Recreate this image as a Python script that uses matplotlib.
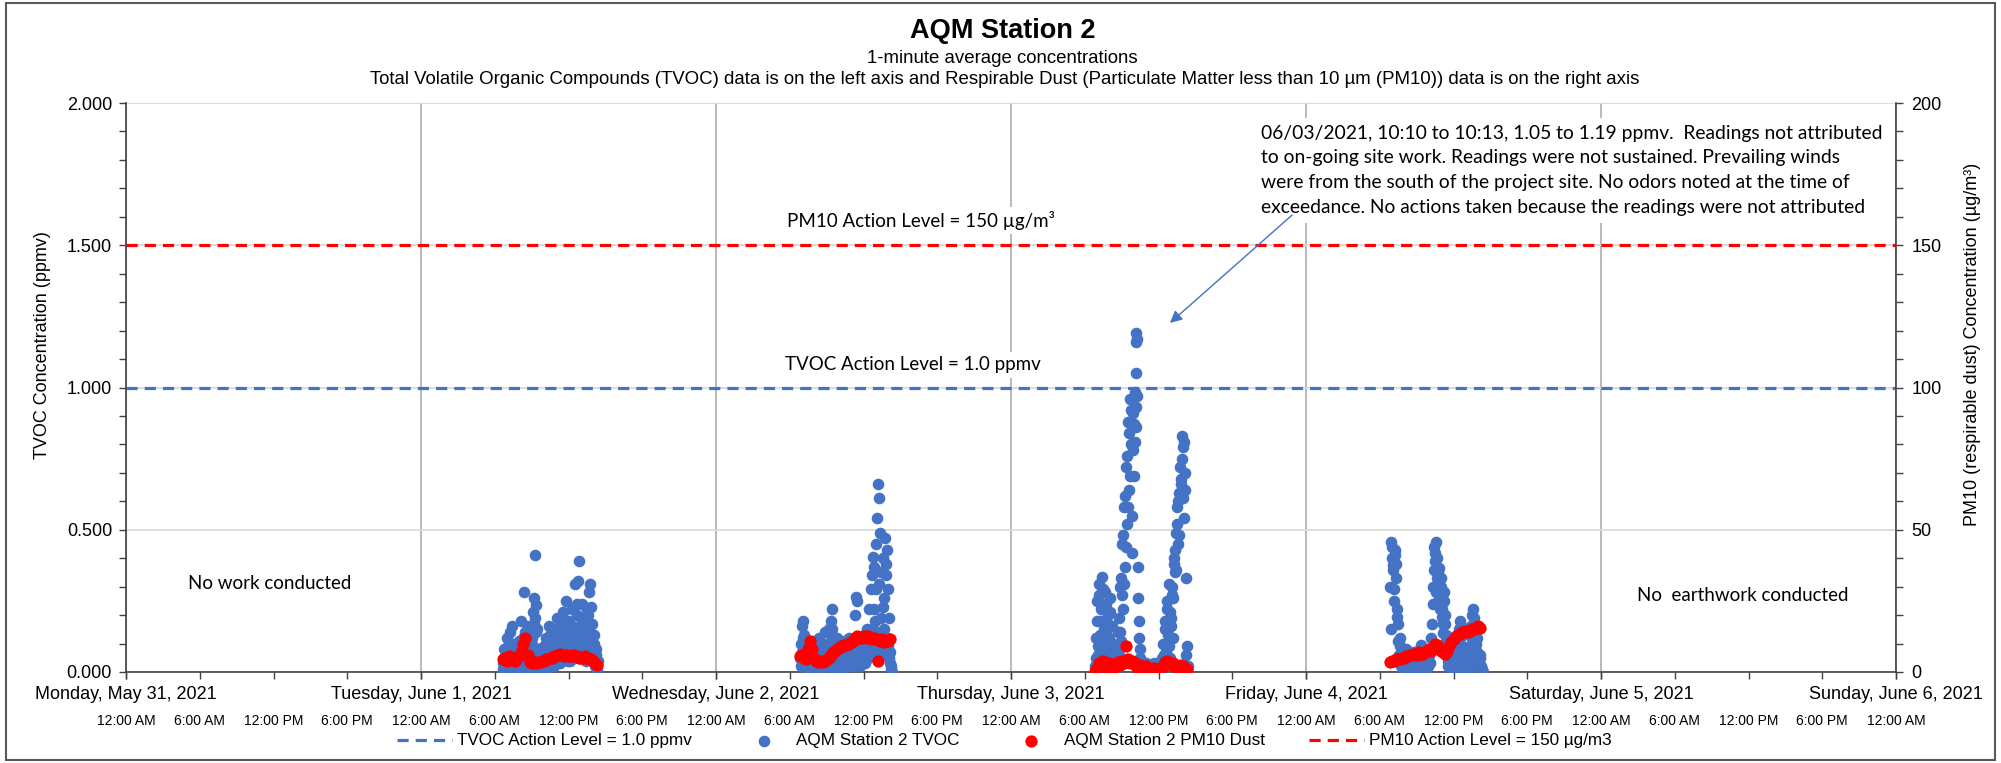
import matplotlib
matplotlib.use("Agg")
import matplotlib.pyplot as plt
import matplotlib.dates as mdates
from matplotlib.ticker import MultipleLocator, FuncFormatter
from matplotlib.lines import Line2D
from matplotlib.patches import Rectangle
import numpy as np
import pandas as pd

# ---------------- data ----------------
x_start = "2021-05-31 00:00"
x_end = "2021-06-06 00:00"

tvoc_step = "5min"
tvoc_day_starts = ["2021-06-01 06:40", "2021-06-02 06:50", "2021-06-03 06:50", "2021-06-04 06:50"]
tvoc_jun1 = [0.03, 0.08, 0.01, 0.05, 0.12, 0.02, 0.06, 0.14, 0.03, 0.16, 0.07, 0.02, 0.10, 0.04, 0.08,
             0.01, 0.11, 0.05, 0.18, 0.03, 0.09, 0.28, 0.14, 0.06, 0.16, 0.02, 0.07, 0.04, 0.12, 0.21,
             0.26, 0.41, 0.235, 0.15, 0.05, 0.02, 0.08, 0.03, 0.06, 0.01, 0.09, 0.04, 0.12, 0.02, 0.07,
             0.16, 0.13, 0.09, 0.04, 0.11, 0.06, 0.15, 0.03, 0.19, 0.08, 0.12, 0.05, 0.17, 0.10, 0.21,
             0.07, 0.14, 0.25, 0.09, 0.18, 0.04, 0.13, 0.22, 0.06, 0.15, 0.31, 0.11, 0.20, 0.32, 0.39,
             0.16, 0.08, 0.24, 0.12, 0.19, 0.05, 0.14, 0.22, 0.10, 0.28, 0.31, 0.23, 0.17, 0.06, 0.13,
             0.02, 0.08, 0.01]
tvoc_jun2 = [0.05, 0.10, 0.16, 0.18, 0.13, 0.08, 0.03, 0.06, 0.01, 0.09, 0.04, 0.07, 0.02, 0.11, 0.05,
             0.03, 0.08, 0.01, 0.06, 0.12, 0.04, 0.09, 0.02, 0.07, 0.14, 0.05, 0.10, 0.03, 0.15, 0.08,
             0.18, 0.22, 0.06, 0.02, 0.09, 0.04, 0.12, 0.07, 0.03, 0.10, 0.05, 0.08, 0.02, 0.11, 0.06,
             0.09, 0.03, 0.07, 0.12, 0.04, 0.09, 0.06, 0.02, 0.10, 0.20, 0.265, 0.25, 0.08, 0.05, 0.11,
             0.03, 0.07, 0.13, 0.04, 0.09, 0.15, 0.06, 0.22, 0.10, 0.29, 0.34, 0.405, 0.37, 0.18, 0.45,
             0.54, 0.66, 0.61, 0.49, 0.35, 0.12, 0.40, 0.26, 0.47, 0.38, 0.43, 0.29, 0.19, 0.07, 0.02]
tvoc_jun3 = [0.02, 0.12, 0.25, 0.06, 0.31, 0.18, 0.09, 0.335, 0.22, 0.04, 0.28, 0.14, 0.07, 0.20, 0.11,
             0.26, 0.03, 0.16, 0.05, 0.01, 0.08, 0.03, 0.14, 0.06, 0.30, 0.11, 0.45, 0.22, 0.58, 0.37,
             0.72, 0.52, 0.88, 0.64, 0.96, 0.80, 0.42, 0.91, 0.69, 0.985, 0.86, 0.97, 0.37, 0.18, 0.08,
             0.03, 0.01, 0.02, 0.00, 0.01, 0.03, 0.01, 0.02, 0.00, 0.01, 0.02, 0.00, 0.01, 0.03, 0.01,
             0.02, 0.00, 0.01, 0.02, 0.01, 0.04, 0.02, 0.06, 0.15, 0.03, 0.22, 0.09, 0.31, 0.05, 0.19,
             0.27, 0.12, 0.40, 0.35, 0.49, 0.58, 0.45, 0.63, 0.72, 0.66, 0.83, 0.79, 0.54, 0.70, 0.06,
             0.01]
tvoc_jun4 = [0.30, 0.458, 0.44, 0.375, 0.25, 0.43, 0.33, 0.195, 0.11, 0.04, 0.12, 0.02, 0.07, 0.01, 0.05,
             0.03, 0.08, 0.01, 0.04, 0.06, 0.02, 0.05, 0.01, 0.07, 0.03, 0.02, 0.06, 0.01, 0.04, 0.08,
             0.095, 0.03, 0.07, 0.02, 0.05, 0.01, 0.04, 0.02, 0.06, 0.03, 0.08, 0.17, 0.30, 0.44, 0.39,
             0.458, 0.33, 0.25, 0.365, 0.22, 0.30, 0.195, 0.136, 0.25, 0.17, 0.13, 0.06, 0.02, 0.09, 0.04,
             0.01, 0.06, 0.03, 0.10, 0.02, 0.05, 0.01, 0.08, 0.18, 0.16, 0.08, 0.13, 0.04, 0.02, 0.07,
             0.01, 0.05, 0.03, 0.09, 0.02, 0.12, 0.22, 0.19, 0.09, 0.055, 0.12, 0.03, 0.02, 0.05, 0.01,
             0.00]
tvoc_days = [tvoc_jun1, tvoc_jun2, tvoc_jun3, tvoc_jun4]

# interleaved readings (offset 2.5 min) filling the dense low band of each day
tvoc_b_day_starts = ["2021-06-01 06:42:30", "2021-06-02 06:52:30", "2021-06-03 06:52:30", "2021-06-04 06:52:30"]
tvoc_b_jun1 = [0.01, 0.04, 0.06, 0.02, 0.09, 0.03, 0.05, 0.01, 0.10, 0.04, 0.02, 0.07, 0.03, 0.06, 0.01,
               0.09, 0.04, 0.02, 0.06, 0.12, 0.03, 0.08, 0.05, 0.02, 0.10, 0.04, 0.01, 0.06, 0.03, 0.09,
               0.17, 0.19, 0.14, 0.04, 0.02, 0.06, 0.01, 0.04, 0.03, 0.07, 0.02, 0.05, 0.01, 0.08, 0.04,
               0.03, 0.09, 0.05, 0.07, 0.02, 0.10, 0.04, 0.13, 0.06, 0.09, 0.03, 0.11, 0.07, 0.15, 0.05,
               0.12, 0.08, 0.18, 0.04, 0.10, 0.14, 0.07, 0.16, 0.11, 0.05, 0.13, 0.09, 0.24, 0.07, 0.15,
               0.10, 0.19, 0.06, 0.12, 0.08, 0.17, 0.04, 0.11, 0.20, 0.07, 0.13, 0.09, 0.05, 0.10, 0.03,
               0.06, 0.02, 0.04]
tvoc_b_jun2 = [0.02, 0.07, 0.12, 0.09, 0.04, 0.02, 0.05, 0.01, 0.04, 0.02, 0.06, 0.03, 0.05, 0.01, 0.08,
               0.02, 0.04, 0.06, 0.03, 0.01, 0.05, 0.07, 0.02, 0.04, 0.09, 0.03, 0.06, 0.02, 0.10, 0.05,
               0.13, 0.15, 0.04, 0.01, 0.05, 0.02, 0.07, 0.03, 0.05, 0.02, 0.06, 0.04, 0.01, 0.05, 0.03,
               0.06, 0.02, 0.04, 0.08, 0.03, 0.05, 0.02, 0.06, 0.04, 0.08, 0.05, 0.03, 0.07, 0.02, 0.05,
               0.09, 0.04, 0.06, 0.03, 0.07, 0.10, 0.05, 0.08, 0.12, 0.06, 0.15, 0.09, 0.22, 0.11, 0.29,
               0.14, 0.08, 0.31, 0.10, 0.19, 0.07, 0.23, 0.15, 0.34, 0.12, 0.09, 0.05, 0.03, 0.01, 0.00]
tvoc_b_jun3 = [0.05, 0.18, 0.09, 0.27, 0.13, 0.22, 0.07, 0.29, 0.15, 0.10, 0.24, 0.06, 0.17, 0.12, 0.21,
               0.08, 0.04, 0.10, 0.02, 0.05, 0.01, 0.06, 0.09, 0.19, 0.14, 0.33, 0.27, 0.48, 0.31, 0.62,
               0.44, 0.76, 0.58, 0.84, 0.69, 0.92, 0.55, 0.78, 0.87, 0.81, 0.93, 0.26, 0.12, 0.05, 0.02,
               0.01, 0.00, 0.02, 0.01, 0.00, 0.01, 0.02, 0.00, 0.01, 0.02, 0.01, 0.00, 0.02, 0.01, 0.00,
               0.01, 0.02, 0.00, 0.03, 0.01, 0.05, 0.10, 0.04, 0.18, 0.07, 0.25, 0.13, 0.09, 0.21, 0.16,
               0.30, 0.26, 0.38, 0.43, 0.36, 0.52, 0.60, 0.48, 0.68, 0.75, 0.61, 0.81, 0.64, 0.33, 0.09,
               0.02]
tvoc_b_jun4 = [0.15, 0.40, 0.36, 0.29, 0.41, 0.38, 0.22, 0.17, 0.06, 0.09, 0.03, 0.05, 0.02, 0.04, 0.01,
               0.06, 0.03, 0.02, 0.05, 0.01, 0.03, 0.04, 0.02, 0.06, 0.01, 0.03, 0.05, 0.02, 0.07, 0.04,
               0.08, 0.05, 0.02, 0.04, 0.01, 0.03, 0.05, 0.02, 0.04, 0.07, 0.12, 0.24, 0.36, 0.42, 0.28,
               0.40, 0.35, 0.30, 0.27, 0.33, 0.22, 0.17, 0.28, 0.20, 0.11, 0.08, 0.04, 0.06, 0.02, 0.05,
               0.03, 0.07, 0.01, 0.04, 0.02, 0.06, 0.12, 0.15, 0.10, 0.06, 0.09, 0.03, 0.05, 0.02, 0.04,
               0.06, 0.01, 0.05, 0.07, 0.16, 0.20, 0.14, 0.08, 0.10, 0.07, 0.04, 0.03, 0.06, 0.02, 0.01,
               0.00]
tvoc_b_days = [tvoc_b_jun1, tvoc_b_jun2, tvoc_b_jun3, tvoc_b_jun4]

# exceedance readings (1-minute)
exceed_times = ["2021-06-03 10:10", "2021-06-03 10:11", "2021-06-03 10:12", "2021-06-03 10:13"]
exceed_tvoc = [1.05, 1.16, 1.19, 1.17]

pm10_step = "10min"
pm10_day_starts = ["2021-06-01 06:40", "2021-06-02 06:50", "2021-06-03 06:50", "2021-06-04 06:50"]
pm10_jun1 = [4.5, 5, 4, 5.5, 4.5, 5, 4, 5, 5.5, 7, 10, 12, 6, 3.5, 3, 3.5, 3, 3.5, 3.5, 4, 4, 4.5, 4.5,
             5, 5, 5.5, 5.5, 6, 6.5, 6, 5.5, 6, 5.5, 5.5, 6, 5.5, 5.5, 5, 5, 5, 5.5, 5, 4.5, 4.5, 4, 3, 2.5]
pm10_jun2 = [5.5, 6, 5, 4.5, 8, 11, 8, 5, 4, 3.5, 4, 3.5, 4, 4.5, 5, 6, 7, 7.5, 8, 8.5, 9, 9, 9.5, 10,
             10, 10.5, 11, 12, 12.5, 12, 12, 12.5, 12, 12.5, 12, 11.5, 12, 11.5, 4, 11, 11.5, 10.5, 11, 11, 11.5]
pm10_jun3 = [0.5, 1.5, 3, 2, 4, 2.5, 1.5, 3, 2, 1, 2, 3.5, 2.5, 4, 3, 9, 4.5, 3, 4, 3.5, 2, 1.5, 2.5, 1,
             1.5, 2, 1, 0.5, 1, 1.5, 1, 0.5, 1.5, 2, 3.5, 4, 3, 2.5, 3, 2, 1.5, 2, 2.5, 2, 1.5, 1]
pm10_jun4 = [3.5, 4, 4, 4.5, 4.5, 4.5, 5, 5, 5.5, 5.5, 6, 6.5, 6, 6, 7, 6.5, 6.5, 7, 7.5, 8, 7.5, 8, 10,
             9.5, 8, 7.5, 7, 6.5, 7.5, 9, 10.5, 11.5, 12.5, 13, 13.5, 14, 14, 14.5, 14, 14.5, 15, 15, 15.5, 16, 15.5]
pm10_days = [pm10_jun1, pm10_jun2, pm10_jun3, pm10_jun4]

tvoc_action = 1.0
pm10_action = 150

legend_labels = ["TVOC Action Level = 1.0 ppmv", "AQM Station 2 TVOC",
                 "AQM Station 2 PM10 Dust", "PM10 Action Level = 150 µg/m3"]

note_text = ("06/03/2021, 10:10 to 10:13, 1.05 to 1.19 ppmv.  Readings not attributed\n"
             "to on-going site work. Readings were not sustained. Prevailing winds\n"
             "were from the south of the project site. No odors noted at the time of\n"
             "exceedance. No actions taken because the readings were not attributed")

# ---------------- build series ----------------
def series(starts, days, step):
    t, v = [], []
    for s, vals in zip(starts, days):
        t.extend(pd.date_range(s, periods=len(vals), freq=step).to_pydatetime())
        v.extend(vals)
    return mdates.date2num(t), np.array(v, dtype=float)

tvoc_t, tvoc_v = series(tvoc_day_starts, tvoc_days, tvoc_step)
tvoc_bt, tvoc_bv = series(tvoc_b_day_starts, tvoc_b_days, tvoc_step)
ex_t = mdates.date2num(pd.to_datetime(exceed_times).to_pydatetime())
tvoc_t = np.concatenate([tvoc_bt, tvoc_t, ex_t])
tvoc_v = np.concatenate([tvoc_bv, tvoc_v, exceed_tvoc])
pm_t, pm_v = series(pm10_day_starts, pm10_days, pm10_step)

# ---------------- figure ----------------
plt.rcParams['font.family'] = ['Liberation Sans', 'DejaVu Sans']
NOTE_FONT = ['Lato', 'DejaVu Sans']
BLUE = '#4472C4'
RED = '#FF0000'
AXC = '#404040'

W, H = 2001, 763
fig = plt.figure(figsize=(W / 100, H / 100), dpi=100)
ax = fig.add_axes([126 / W, 1 - 672 / H, (1896 - 126) / W, (672 - 103) / H])
ax2 = ax.twinx()

# grid
ax.set_axisbelow(True)
ax.grid(True, axis='y', which='major', color='#d9d9d9', lw=1.3)
ax.grid(True, axis='x', which='major', color='#a6a6a6', lw=1.1)

# data
sc1 = ax.scatter(tvoc_t, tvoc_v, s=70, color=BLUE, linewidths=0, zorder=3)
l1 = ax.axhline(tvoc_action, color=BLUE, lw=2.3, dashes=(3.5, 2.2), zorder=2.5)
sc2 = ax2.scatter(pm_t, pm_v, s=78, color=RED, linewidths=0, zorder=3)
l2 = ax2.axhline(pm10_action, color=RED, lw=2.3, dashes=(3.5, 2.2), zorder=2.5)

# limits
ax.set_xlim(mdates.date2num(pd.Timestamp(x_start).to_pydatetime()),
            mdates.date2num(pd.Timestamp(x_end).to_pydatetime()))
ax.set_ylim(0, 2)
ax2.set_ylim(0, 200)

# y ticks
ax.yaxis.set_major_locator(MultipleLocator(0.5))
ax.yaxis.set_minor_locator(MultipleLocator(0.1))
ax.yaxis.set_major_formatter(FuncFormatter(lambda v, p: f"{v:.3f}"))
ax.tick_params(axis='y', which='both', direction='out', length=5, width=1, color=AXC, labelsize=13, pad=5)
ax2.yaxis.set_major_locator(MultipleLocator(50))
ax2.yaxis.set_minor_locator(MultipleLocator(10))
ax2.yaxis.set_major_formatter(FuncFormatter(lambda v, p: f"{v:.0f}"))
ax2.tick_params(axis='y', which='both', direction='out', length=5, width=1, color=AXC, labelsize=13, pad=6)

# x ticks
def fmt_date(x, pos=None):
    d = mdates.num2date(x)
    return f"{d:%A}, {d:%B} {d.day}, {d.year}"

def fmt_time(x, pos=None):
    d = mdates.num2date(x)
    h = d.hour % 12 or 12
    return f"{h}:{d.minute:02d} {'AM' if d.hour < 12 else 'PM'}"

ax.xaxis.remove_overlapping_locs = False
ax.xaxis.set_major_locator(mdates.DayLocator())
ax.xaxis.set_minor_locator(mdates.HourLocator(byhour=[0, 6, 12, 18]))
ax.xaxis.set_major_formatter(FuncFormatter(fmt_date))
ax.xaxis.set_minor_formatter(FuncFormatter(fmt_time))
ax.tick_params(axis='x', which='major', direction='out', length=5, width=1, color=AXC, labelsize=13, pad=5)
ax.tick_params(axis='x', which='minor', direction='out', length=5, width=1, color=AXC, labelsize=10, pad=25)

# spines
for a in (ax, ax2):
    a.spines['top'].set_visible(False)
ax.spines['right'].set_visible(False)
ax2.spines['left'].set_visible(False)
ax2.spines['bottom'].set_visible(False)
for sp in ('left', 'bottom'):
    ax.spines[sp].set_color(AXC)
    ax.spines[sp].set_linewidth(1.2)
ax2.spines['right'].set_color(AXC)
ax2.spines['right'].set_linewidth(1.2)

# axis labels
ax.set_ylabel("TVOC Concentration (ppmv)", fontsize=13)
ax.yaxis.set_label_coords(-0.0424, 0.575)
ax2.set_ylabel("PM10 (respirable dust) Concentration (µg/m³)", fontsize=13)
ax2.yaxis.set_label_coords(1.0385, 0.575)

# titles
fig.text(0.501, 1 - 38 / H, "AQM Station 2", ha='center', va='baseline', fontsize=19.5, weight='bold')
fig.text(0.501, 1 - 63 / H, "1-minute average concentrations", ha='center', va='baseline', fontsize=13.4)
fig.text(0.502, 1 - 84 / H,
         "Total Volatile Organic Compounds (TVOC) data is on the left axis and Respirable Dust "
         "(Particulate Matter less than 10 µm (PM10)) data is on the right axis",
         ha='center', va='baseline', fontsize=13.4)

# in-chart labels
box = dict(facecolor='white', edgecolor='none', pad=3)
ax2.text(0.449, 0.794, "PM10 Action Level = 150 µg/m³", transform=ax2.transAxes, ha='center', va='center',
         fontsize=13.5, family=NOTE_FONT, bbox=box, zorder=5)
ax2.text(0.4446, 0.5396, "TVOC Action Level = 1.0 ppmv", transform=ax2.transAxes, ha='center', va='center',
         fontsize=13.5, family=NOTE_FONT, bbox=box, zorder=5)
ax2.text(0.0814, 0.1547, "No work conducted", transform=ax2.transAxes, ha='center', va='center',
         fontsize=13.5, family=NOTE_FONT, zorder=5)
ax2.text(0.9136, 0.1353, "No  earthwork conducted", transform=ax2.transAxes, ha='center', va='center',
         fontsize=13.5, family=NOTE_FONT, zorder=5)
ax2.text(0.6412, 0.962, note_text, transform=ax2.transAxes, ha='left', va='top', fontsize=13.9,
         family=NOTE_FONT, linespacing=1.55, bbox=dict(facecolor='white', edgecolor='none', pad=5), zorder=5)

# arrow (tail below note, head near the exceedance readings)
ann_head = (mdates.date2num(pd.Timestamp("2021-06-03 12:56").to_pydatetime()), 1.227)
ann_tail = (mdates.date2num(pd.Timestamp("2021-06-03 22:52").to_pydatetime()), 1.606)
ax2.annotate("", xy=ann_head, xytext=ann_tail, xycoords=ax.transData, textcoords=ax.transData,
             arrowprops=dict(arrowstyle='-|>', color=BLUE, lw=1.0, mutation_scale=18, shrinkA=0, shrinkB=0),
             zorder=6)

# legend
h_l1 = Line2D([], [], color=BLUE, lw=2.3, dashes=(3.5, 2.2))
h_l2 = Line2D([], [], color=RED, lw=2.3, dashes=(3.5, 2.2))
fig.legend([h_l1, sc1, sc2, h_l2], legend_labels, loc='center', bbox_to_anchor=(0.502, 1 - 741 / H),
           ncol=4, frameon=False, fontsize=12.3, handlelength=3.2, handletextpad=0.3, columnspacing=2.6,
           scatterpoints=1, markerscale=1.0)

# chart border
fig.add_artist(Rectangle((0.003, 0.004), 0.994, 0.992, transform=fig.transFigure, fill=False,
                         edgecolor='#595959', lw=1.5))

fig.savefig("out.png", dpi=100)
